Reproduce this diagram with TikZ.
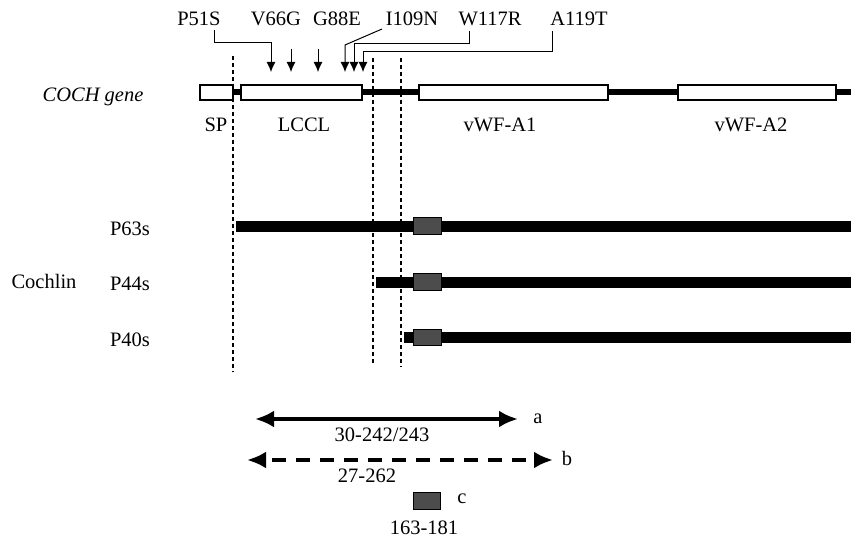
\documentclass[tikz,border=0pt]{standalone}
\usepackage{fontspec}
\setmainfont{Liberation Serif}
\usetikzlibrary{arrows.meta}
\tikzset{
  lbl/.style={inner sep=0pt, anchor=base, font=\fontsize{20.5}{24}\selectfont},
  mutarrow/.style={line width=1pt, -{Latex[length=10pt,width=9pt]}},
  vdash/.style={line width=1.3pt, dash pattern=on 4pt off 3pt},
  exon/.style={draw=black, line width=1.1pt, fill=white},
  gene/.style={line width=6pt},
  bar/.style={fill=black},
  motif/.style={draw=black, line width=0.8pt, fill=black!70},
  bigarrow/.style={line width=4.5pt, {Latex[length=19pt,width=17pt]}-{Latex[length=19pt,width=17pt]}}
}
\begin{document}
\begin{tikzpicture}[x=1pt,y=-1pt]
\useasboundingbox (0,0) rectangle (851,540);
% gene
\draw[gene] (234,92.5) -- (851,92.5);
\draw[exon] (200,85) rectangle (233,100);
\draw[exon] (241,85) rectangle (362,100);
\draw[exon] (419,85) rectangle (608,100);
\draw[exon] (678,85) rectangle (836,100);
\node[lbl] (coch) at (93,101.5) {\textit{COCH gene}};
\node[lbl] (sp) at (216,132) {SP};
\node[lbl] (lccl) at (304,132) {LCCL};
\node[lbl] (vwfa1) at (500,132) {vWF-A1};
\node[lbl] (vwfa2) at (751,132) {vWF-A2};
% dashed boundaries
\draw[vdash] (233,56) -- (233,372);
\draw[vdash] (373,58) -- (373,365);
\draw[vdash] (401,58) -- (401,367);
% mutations
\node[lbl] (p51s) at (199,26) {P51S};
\node[lbl] (v66g) at (276,26) {V66G};
\node[lbl] (g88e) at (337,26) {G88E};
\node[lbl] (i109n) at (412,26) {I109N};
\node[lbl] (w117r) at (490,26) {W117R};
\node[lbl] (a119t) at (579,26) {A119T};
\coordinate (t1) at (271,72);
\coordinate (t2) at (291,72);
\coordinate (t3) at (318,72);
\coordinate (t4) at (345,72);
\coordinate (t5) at (354,72);
\coordinate (t6) at (363,72);
\draw[mutarrow] (214,30) -- (214,43) -- (271,43) -- (t1);
\draw[mutarrow] (291,49) -- (t2);
\draw[mutarrow] (318,49) -- (t3);
\draw[mutarrow] (382,29) -- (345,45) -- (t4);
\draw[mutarrow] (469,31) -- (469,43.5) -- (354,43.5) -- (t5);
\draw[mutarrow] (552,31) -- (552,52) -- (363,52) -- (t6);
% cochlin forms
\node[lbl] (cochlin) at (44,288) {Cochlin};
\node[lbl] (p63s) at (130,235) {P63s};
\node[lbl] (p44s) at (130,290) {P44s};
\node[lbl] (p40s) at (130,346) {P40s};
\fill[bar] (236,221) rectangle (851,232);
\fill[bar] (376,276.5) rectangle (851,287.5);
\fill[bar] (404,331.5) rectangle (851,342.5);
\draw[motif] (413,217.5) rectangle (441,234);
\draw[motif] (413,273.5) rectangle (441,290);
\draw[motif] (413,329) rectangle (441,345.5);
% legend
\coordinate (aL) at (255,419);
\coordinate (aR) at (518,419);
\draw[bigarrow] (aL) -- (aR);
\node[lbl] (la) at (538,423) {a};
\node[lbl] (ra) at (382,441) {30-242/243};
\coordinate (bL) at (247,460);
\coordinate (bR) at (553,460);
\draw[bigarrow, dash pattern=on 14pt off 10pt, dash phase=-8pt] (bL) -- (bR);
\node[lbl] (lb) at (567,465) {b};
\node[lbl] (rb) at (367,482) {27-262};
\draw[motif] (413,492) rectangle (440,509);
\node[lbl] (lc) at (462,503) {c};
\node[lbl] (rc) at (424,534.5) {163-181};
\end{tikzpicture}
\end{document}
